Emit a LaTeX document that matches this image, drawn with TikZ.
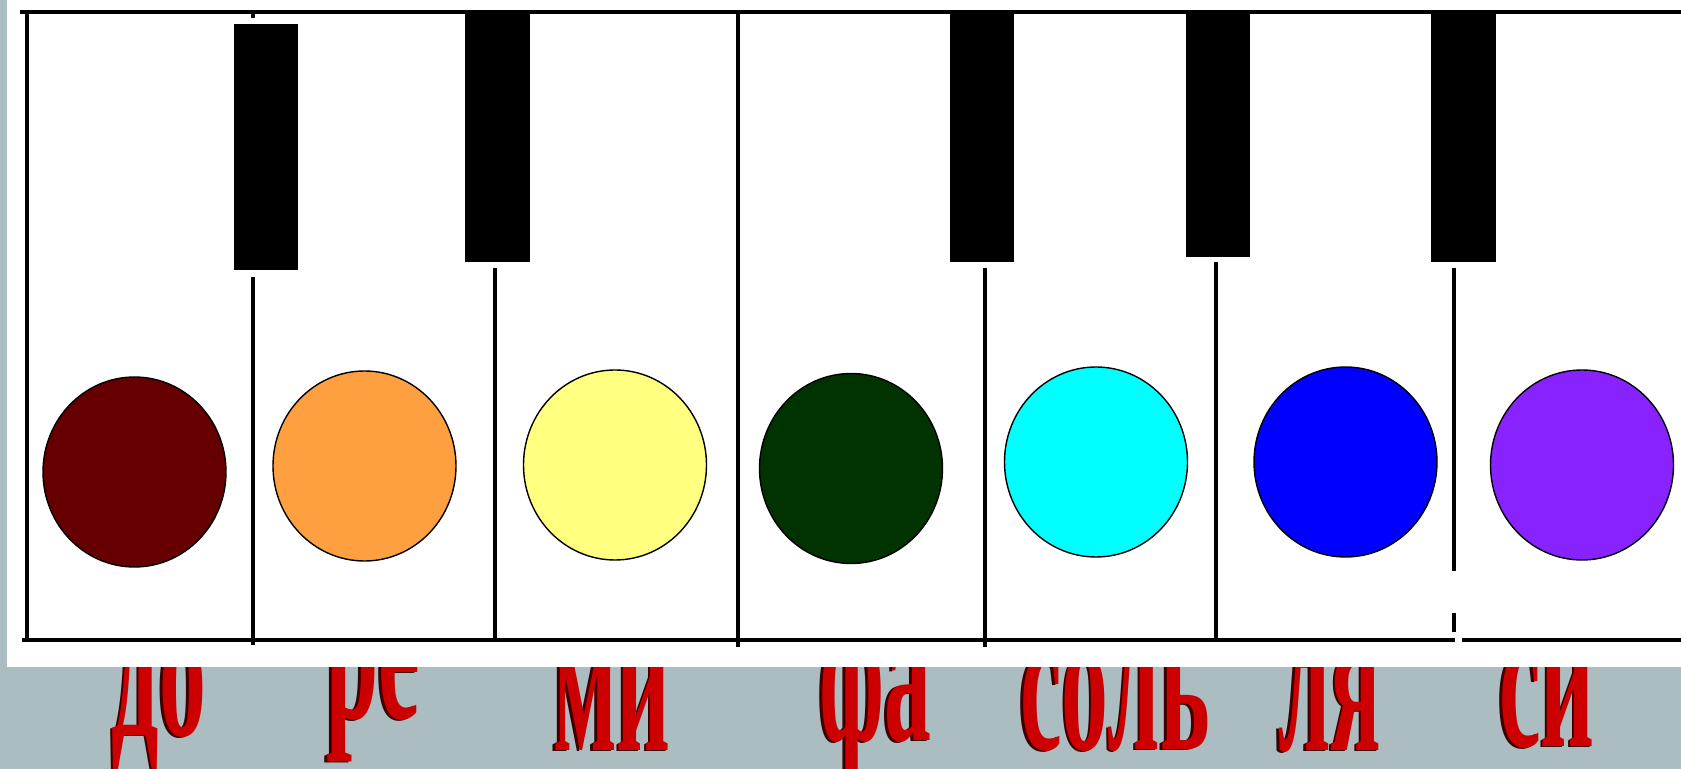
\documentclass[tikz,border=0pt]{standalone}
\usepackage{fontspec}
\setmainfont{Liberation Serif}
\usepackage{tikz}
\usetikzlibrary{shapes.geometric}

\definecolor{slate}{RGB}{172,189,193}
\definecolor{notered}{RGB}{204,0,0}
\definecolor{shadowred}{RGB}{60,0,0}
\definecolor{colDo}{RGB}{102,0,0}
\definecolor{colRe}{RGB}{255,160,64}
\definecolor{colMi}{RGB}{255,255,128}
\definecolor{colFa}{RGB}{0,51,0}
\definecolor{colSol}{RGB}{0,255,255}
\definecolor{colLa}{RGB}{0,0,255}
\definecolor{colSi}{RGB}{136,34,255}

\newcommand\notetxt[1]{\scalebox{0.46}[1]{\bfseries #1}}

\tikzset{
  keyline/.style={line width=1.7pt, draw=black},
  blackkey/.style={fill=black},
  notedot/.style={ellipse, draw=black, line width=0.7pt, inner sep=0pt,
    minimum width=91.5pt, minimum height=95pt},
  notelabel/.style={anchor=base, inner sep=0pt, text=notered,
    font=\fontsize{102}{102}\selectfont},
  labelshadow/.style={notelabel, text=shadowred}
}

\begin{document}
\begin{tikzpicture}[x=0.5pt, y=-0.5pt]
  \useasboundingbox (0,0) rectangle (1681,769);
  \fill[slate] (0,0) rectangle (1681,769);
  % note names (tops hidden under the keyboard)
  \foreach \name/\x/\y/\txt in {Do/159/735/до, Re/373/718/ре, Mi/612/750/ми,
      Fa/875/740/фа, Sol/1115/749/соль, La/1330/750/ля, Si/1547/746/си} {
    \node[labelshadow] (sh\name) at (\x-2.5,\y+1.5) {\notetxt{\txt}};
    \node[notelabel] (lbl\name) at (\x,\y) {\notetxt{\txt}};
  }
  \fill[white] (7,0) rectangle (1681,667);
  % frame
  \draw[keyline] (20,12) -- (1681,12);
  \draw[keyline] (27,12) -- (27,641);
  \draw[keyline] (22,640) -- (1455,640);
  \draw[keyline] (1462,640) -- (1681,640);
  % separators
  \draw[keyline] (253,12) -- (253,18);
  \draw[keyline] (253,277) -- (253,645);
  \draw[keyline] (495,268) -- (495,640);
  \draw[keyline] (738,12) -- (738,647);
  \draw[keyline] (985,268) -- (985,647);
  \draw[keyline] (1216,262) -- (1216,640);
  \draw[keyline] (1454,268) -- (1454,571);
  \draw[keyline] (1454,613) -- (1454,632);
  % black keys
  \fill[blackkey] (234,24) rectangle (298,270);
  \fill[blackkey] (465,12) rectangle (530,262);
  \fill[blackkey] (950,12) rectangle (1014,262);
  \fill[blackkey] (1186,12) rectangle (1250,257);
  \fill[blackkey] (1431,12) rectangle (1496,262);
  % colour dots
  \node[notedot, fill=colDo] (dotDo) at (134.5,472) {};
  \node[notedot, fill=colRe] (dotRe) at (364.5,466) {};
  \node[notedot, fill=colMi] (dotMi) at (615,465) {};
  \node[notedot, fill=colFa] (dotFa) at (851,468.5) {};
  \node[notedot, fill=colSol] (dotSol) at (1096,462) {};
  \node[notedot, fill=colLa] (dotLa) at (1345.5,462) {};
  \node[notedot, fill=colSi] (dotSi) at (1582,465) {};
\end{tikzpicture}
\end{document}
